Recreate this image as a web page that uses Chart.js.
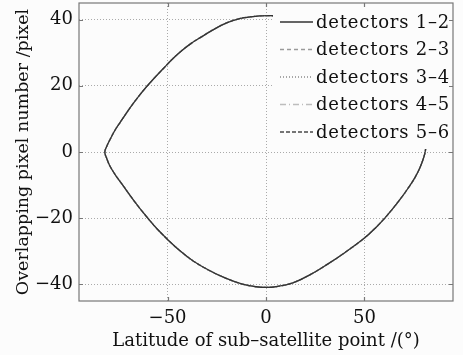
<!DOCTYPE html>
<html>
<head>
<meta charset="utf-8">
<script src="https://cdn.jsdelivr.net/npm/chart.js@4/dist/chart.umd.min.js"></script>
<style>
  html, body { margin: 0; padding: 0; background: #fcfcfc; }
  canvas { display: block; }
</style>
</head>
<body>
<canvas id="overlapChart" width="463" height="355"></canvas>
<script>
// latitude of the sub-satellite point (deg) along the orbit
var latitude = [5, 2, -3.2, -8, -13.4, -20, -26.9, -33, -38, -43, -48, -52, -56, -60.7,
    -65, -69, -73, -76.5, -79.3, -81, -81.9,
    -81, -79.5, -77, -74, -71, -67.5, -64, -60, -55.5, -50, -44, -37, -29, -20.5, -12, -5, 0,
    5, 13.7, 22, 30.7, 40, 50, 56, 60, 64, 68, 72, 75.5, 78.3, 80.2, 81, 81.3];
// overlapping pixel number between adjacent detectors (all pairs coincide)
var overlapPixels = [41.1, 41.2, 41.1, 40.8, 40.3, 39.0, 36.9, 34.7, 32.8, 30.5, 27.8, 25.3,
    22.8, 19.7, 16.6, 13.4, 9.9, 6.8, 3.7, 1.6, 0,
    -1.8, -4.0, -6.5, -9.0, -11.5, -14.4, -17.1, -20.0, -23.1, -26.4, -29.7, -32.9, -35.7,
    -38.1, -39.9, -40.7, -40.9,
    -40.7, -39.5, -37.2, -34.1, -30.4, -26, -22.7, -20.2, -17.4, -14.4, -11.1, -7.9, -4.6,
    -1.5, 0.5, 2.5];

var pairLabels = ['detectors 1\u20132', 'detectors 2\u20133', 'detectors 3\u20134',
    'detectors 4\u20135', 'detectors 5\u20136'];
var xTicks = [-50, 0, 50];
var yTicks = [-40, -20, 0, 20, 40];

var lineColors = ['#333333', '#9a9a9a', '#8a8a8a', '#bdbdbd', '#484848'];
var lineDashes = [[], [4, 3], [1, 2], [6, 3, 1, 3], [4, 2]];

var serif = '"DejaVu Serif", serif';

function buildPoints() {
    var pts = [];
    for (var i = 0; i < latitude.length; i++) {
        pts.push({ x: latitude[i], y: overlapPixels[i] });
    }
    return pts;
}

var datasets = pairLabels.map(function (label, i) {
    return {
        label: label,
        data: buildPoints(),
        showLine: true,
        borderColor: lineColors[i],
        borderDash: lineDashes[i],
        borderWidth: 1.3,
        pointRadius: 0,
        tension: 0.4,
        fill: false
    };
});

function minusSign(v) {
    return String(v).replace('-', '\u2212');
}

// legend inside the top-right corner, frame and inward ticks
var framePlugin = {
    id: 'frame',
    beforeDraw: function (chart) {
        var ctx = chart.ctx;
        ctx.save();
        ctx.fillStyle = '#fcfcfc';
        ctx.fillRect(0, 0, chart.width, chart.height);
        ctx.restore();
    },
    afterDatasetsDraw: function (chart) {
        var ctx = chart.ctx;
        var a = chart.chartArea;
        ctx.save();

        // legend box
        var boxLeft = a.right - 180;
        ctx.fillStyle = '#fcfcfc';
        ctx.fillRect(boxLeft, a.top, a.right - boxLeft, 146);

        ctx.font = '18px ' + serif;
        ctx.letterSpacing = '0.8px';
        ctx.textBaseline = 'middle';
        ctx.textAlign = 'left';
        var textLeft = a.right - 137;
        chart.data.datasets.forEach(function (ds, i) {
            var y = a.top + 19 + i * 27.5;
            ctx.strokeStyle = ds.borderColor;
            ctx.lineWidth = 1.3;
            ctx.setLineDash(ds.borderDash);
            ctx.beginPath();
            ctx.moveTo(textLeft - 36, y);
            ctx.lineTo(textLeft - 3, y);
            ctx.stroke();
            ctx.fillStyle = '#111';
            ctx.fillText(ds.label, textLeft, y + 1);
        });
        ctx.letterSpacing = '0px';

        // frame
        ctx.setLineDash([]);
        ctx.strokeStyle = '#777';
        ctx.lineWidth = 1.2;
        ctx.strokeRect(a.left, a.top, a.right - a.left, a.bottom - a.top);

        // inward tick marks
        var xs = chart.scales.x, ys = chart.scales.y;
        ctx.beginPath();
        xTicks.forEach(function (v) {
            var px = Math.round(xs.getPixelForValue(v)) + 0.5;
            ctx.moveTo(px, a.bottom); ctx.lineTo(px, a.bottom - 4);
            ctx.moveTo(px, a.top); ctx.lineTo(px, a.top + 4);
        });
        yTicks.forEach(function (v) {
            var py = Math.round(ys.getPixelForValue(v)) + 0.5;
            ctx.moveTo(a.left, py); ctx.lineTo(a.left + 4, py);
            ctx.moveTo(a.right, py); ctx.lineTo(a.right - 4, py);
        });
        ctx.stroke();
        ctx.restore();
    }
};

var ctx = document.getElementById('overlapChart').getContext('2d');
var overlapChart = new Chart(ctx, {
    type: 'scatter',
    data: { datasets: datasets },
    options: {
        responsive: false,
        animation: false,
        devicePixelRatio: 1,
        layout: { padding: { top: 3, right: 10, left: 0, bottom: 0 } },
        plugins: {
            legend: { display: false },
            tooltip: { enabled: false }
        },
        scales: {
            x: {
                type: 'linear',
                min: -95,
                max: 95,
                afterBuildTicks: function (scale) {
                    scale.ticks = xTicks.map(function (v) { return { value: v }; });
                },
                afterFit: function (scale) {
                    scale.height = 54;
                    scale.paddingLeft = 0;
                    scale.paddingRight = 0;
                },
                grid: { color: '#aaa', lineWidth: 1, drawTicks: false },
                border: { display: false, dash: [1, 2] },
                ticks: {
                    color: '#111',
                    padding: 7,
                    maxRotation: 0,
                    font: { family: serif, size: 18 },
                    callback: function (v) { return minusSign(v); }
                },
                title: {
                    display: true,
                    text: 'Latitude of sub\u2013satellite point /(\u00b0)',
                    color: '#111',
                    font: { family: serif, size: 18 },
                    padding: { top: 0, bottom: 3 }
                }
            },
            y: {
                type: 'linear',
                min: -45,
                max: 45,
                afterBuildTicks: function (scale) {
                    scale.ticks = yTicks.map(function (v) { return { value: v }; });
                },
                afterFit: function (scale) {
                    scale.width = 79;
                    scale.paddingTop = 0;
                    scale.paddingBottom = 0;
                },
                grid: { color: '#aaa', lineWidth: 1, drawTicks: false },
                border: { display: false, dash: [1, 2] },
                ticks: {
                    color: '#111',
                    padding: 6,
                    font: { family: serif, size: 18 },
                    callback: function (v) { return minusSign(v); }
                },
                title: {
                    display: true,
                    text: 'Overlapping pixel number /pixel',
                    color: '#111',
                    font: { family: serif, size: 17.5 },
                    padding: { top: 13, bottom: 0 }
                }
            }
        }
    },
    plugins: [framePlugin]
});
</script>
</body>
</html>
